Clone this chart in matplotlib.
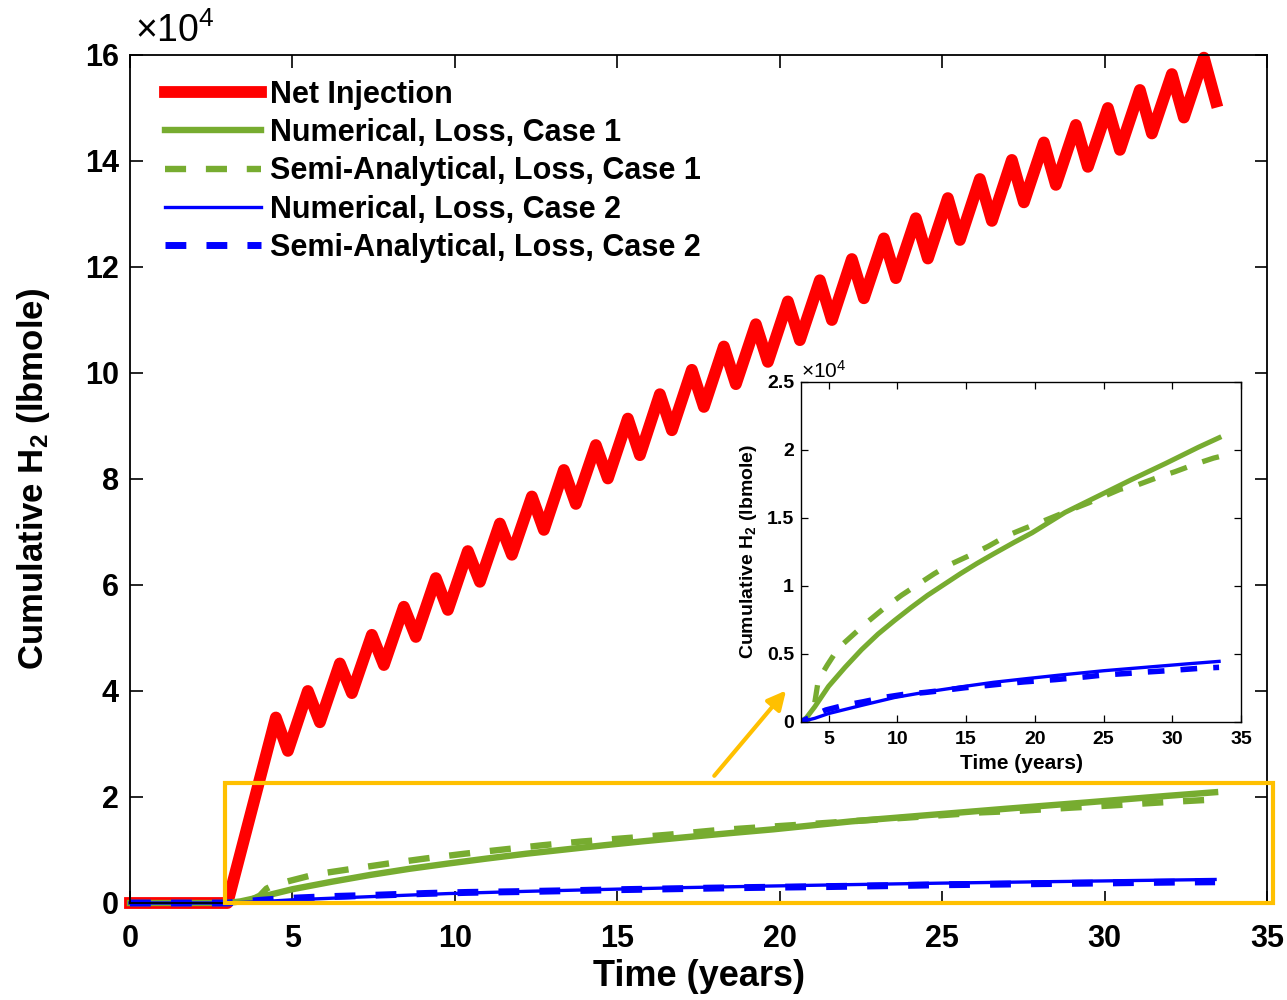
import numpy as np
import matplotlib
matplotlib.use("Agg")
import matplotlib.pyplot as plt
from matplotlib.patches import Rectangle

plt.rcParams['font.family'] = ['Liberation Sans', 'DejaVu Sans']
plt.rcParams['font.weight'] = 'bold'
plt.rcParams['axes.labelweight'] = 'bold'
plt.rcParams['mathtext.default'] = 'regular'

# --- net injection: storage cycles (values in 1e4 lbmole) ---
inj_start = 3.0          # years, injection begins
cycle_start = 4.49       # time of first peak
cycle_years = 0.985
withdraw_years = 0.37

peak_vals = [3.50, 4.00, 4.52, 5.06, 5.59, 6.13, 6.64, 7.16, 7.67, 8.17,
             8.64, 9.14, 9.60, 10.06, 10.50, 10.92, 11.35, 11.75, 12.15, 12.54,
             12.92, 13.30, 13.66, 14.02, 14.35, 14.68, 15.00, 15.34, 15.64, 15.95]
trough_vals = [2.87, 3.41, 3.96, 4.49, 5.02, 5.53, 6.06, 6.57, 7.04, 7.53,
               8.01, 8.45, 8.92, 9.36, 9.79, 10.21, 10.62, 11.00, 11.41, 11.79,
               12.16, 12.51, 12.87, 13.22, 13.55, 13.89, 14.21, 14.52, 14.82, 15.12]

# --- cumulative loss curves (1e4 lbmole) ---
num1_t = [0, 3.0, 3.4, 4.0, 5.0, 6.2, 7.4, 8.6, 9.8, 11.0, 12.2, 13.4, 14.6, 15.8,
          17.0, 18.5, 19.8, 22.2, 24.6, 27.0, 29.5, 31.9, 33.4]
num1_v = [0, 0, 0.03, 0.11, 0.26, 0.40, 0.53, 0.645, 0.745, 0.84, 0.93, 1.01, 1.09, 1.165,
          1.235, 1.32, 1.39, 1.54, 1.66, 1.78, 1.90, 2.02, 2.09]

semi1_t = [0, 3.0, 3.5, 3.7, 4.0, 4.2, 4.4, 4.9, 5.7, 6.9, 7.9, 9.1, 10.3, 11.5, 12.7,
           13.9, 15.4, 16.6, 18.0, 19.2, 20.7, 21.9, 23.9, 26.2, 27.4, 29.0, 30.2,
           31.8, 33.0, 33.4]
semi1_v = [0, 0, 0.01, 0.05, 0.14, 0.27, 0.33, 0.415, 0.54, 0.65, 0.74, 0.84, 0.93, 1.01,
           1.09, 1.16, 1.23, 1.29, 1.37, 1.42, 1.48, 1.53, 1.61, 1.71, 1.74, 1.80, 1.84,
           1.90, 1.94, 1.95]

num2_t = [0, 3.0, 4.0, 5.0, 7.4, 9.8, 12.2, 14.6, 17.0, 19.5, 22.0, 25.0, 28.0, 31.0, 33.4]
num2_v = [0, 0, 0.025, 0.06, 0.12, 0.178, 0.22, 0.256, 0.29, 0.318, 0.345, 0.375, 0.40,
          0.425, 0.444]

semi2_t = [0, 3.0, 4.0, 4.8, 6.2, 7.5, 9.1, 10.4, 12.0, 13.3, 14.9, 16.2, 17.8, 19.2,
           21.5, 23.7, 25.1, 26.7, 28.0, 29.6, 30.9, 32.3, 33.4]
semi2_v = [0, 0, 0.05, 0.086, 0.122, 0.146, 0.18, 0.20, 0.215, 0.23, 0.25, 0.263, 0.28,
           0.293, 0.31, 0.33, 0.345, 0.355, 0.365, 0.375, 0.385, 0.395, 0.40]

# build the sawtooth for net injection
k = np.arange(len(peak_vals))
peak_t = cycle_start + cycle_years * k
trough_t = peak_t + withdraw_years
net_t = [0, inj_start]
net_v = [0, 0]
for pt, pv, tt, tv in zip(peak_t, peak_vals, trough_t, trough_vals):
    net_t += [pt, tt]
    net_v += [pv, tv]

RED = '#FF0000'
GREEN = '#77AC30'
BLUE = '#0000FF'
GOLD = '#FFC000'

fig = plt.figure(figsize=(12.87, 10), dpi=100)
ax = fig.add_axes([0.101, 0.097, 0.8835, 0.848])

ax.plot(net_t, net_v, color=RED, lw=8.5, label='Net Injection', clip_on=False,
        solid_joinstyle='round')
ax.plot(num1_t, num1_v, color=GREEN, lw=4.6, label='Numerical, Loss, Case 1', clip_on=False)
ax.plot(semi1_t, semi1_v, color=GREEN, lw=4.6, ls=(0, (3.3, 3.1)),
        label='Semi-Analytical, Loss, Case 1', clip_on=False)
ax.plot(num2_t, num2_v, color=BLUE, lw=2.4, label='Numerical, Loss, Case 2', clip_on=False)
ax.plot(semi2_t, semi2_v, color=BLUE, lw=5.0, ls=(0, (3.0, 2.9)),
        label='Semi-Analytical, Loss, Case 2', clip_on=False)

ax.set_xlim(0, 35)
ax.set_ylim(0, 16)
ax.set_xticks(range(0, 36, 5))
ax.set_yticks(range(0, 17, 2))
ax.tick_params(direction='in', length=9, width=1.2, top=True, right=True,
               labelsize=22)
ax.tick_params(axis='x', pad=15)
ax.tick_params(axis='y', pad=8)
for s in ax.spines.values():
    s.set_linewidth(1.3)
ax.set_xlabel('Time (years)', fontsize=26, labelpad=4)
ax.set_ylabel('Cumulative H$_2$ (lbmole)', fontsize=25, labelpad=24)
ax.text(0.004, 1.006, r'$\times$10$^4$', transform=ax.transAxes, fontsize=27,
        fontweight='normal', ha='left', va='bottom')

leg = ax.legend(loc='upper left', bbox_to_anchor=(0.02, 0.985), frameon=False, fontsize=22,
                handlelength=3.13, handletextpad=0.3, labelspacing=0.27, borderaxespad=0)

# zoom box and pointer
ax.add_patch(Rectangle((2.92, 0), 35.18 - 2.92, 2.26, fill=False, ec=GOLD, lw=3,
                       clip_on=False, zorder=5))
ax.annotate('', xy=(20.25, 4.05), xytext=(17.93, 2.36),
            arrowprops=dict(arrowstyle='-|>', color=GOLD, lw=3, mutation_scale=28))

# inset with loss curves only
ins = fig.add_axes([0.6224, 0.2783, 0.3419, 0.3397])
ins.plot(num1_t, num1_v, color=GREEN, lw=3.6)
ins.plot(semi1_t, semi1_v, color=GREEN, lw=3.8, ls=(0, (3.3, 3.1)))
ins.plot(num2_t, num2_v, color=BLUE, lw=2.4)
ins.plot(semi2_t, semi2_v, color=BLUE, lw=4.0, ls=(0, (3.0, 2.9)))
ins.set_xlim(3, 35)
ins.set_ylim(0, 2.5)
ins.set_xticks(range(5, 36, 5))
ins.set_yticks([0, 0.5, 1, 1.5, 2, 2.5])
ins.set_yticklabels(['0', '0.5', '1', '1.5', '2', '2.5'])
ins.tick_params(direction='in', length=5, width=0.9, top=True, right=True,
                labelsize=14)
ins.tick_params(axis='x', pad=7)
ins.tick_params(axis='y', pad=5)
for s in ins.spines.values():
    s.set_linewidth(1.0)
ins.set_xlabel('Time (years)', fontsize=15, labelpad=4)
ins.set_ylabel('Cumulative H$_2$ (lbmole)', fontsize=14, labelpad=6)
ins.text(0.0, 1.0, r'$\times$10$^4$', transform=ins.transAxes, fontsize=15,
         fontweight='normal', ha='left', va='bottom')

fig.savefig('out.png', dpi=100)
